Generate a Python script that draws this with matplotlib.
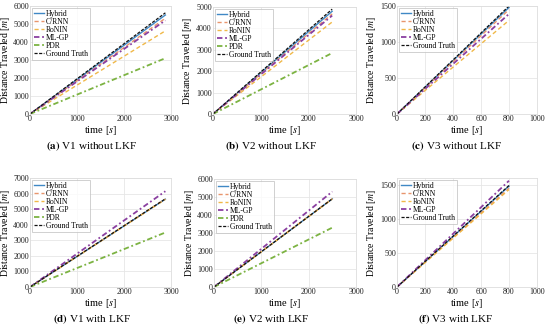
import matplotlib
matplotlib.use("Agg")
import matplotlib.pyplot as plt

plt.rcParams['font.family'] = ['Liberation Serif', 'DejaVu Serif']
plt.rcParams['mathtext.fontset'] = 'stix'

methods = ["Hybrid", "C/RNN", "RoNIN", "ML-GP", "PDR", "Ground Truth"]
colors = ["#3f88c5", "#e8956d", "#f0b848", "#8a3fa0", "#7cb342", "#111111"]
styles = ["-", (0, (3, 2)), (0, (3, 2)), (0, (3, 1.5, 1, 1.5)), (0, (3, 1.5, 1, 1.5)), (0, (2.5, 1.2))]
widths = [1.0, 1.0, 1.0, 1.3, 1.3, 0.9]

# end time of each run [s]
end_time = {"a": 2880, "b": 2500, "c": 800, "d": 2880, "e": 2500, "f": 800}

# distance traveled at end time [m]; None = not shown
end_dist = {
    "a": [5500, 5320, 4620, 5200, 3100, 5620],
    "b": [4800, 4680, 4300, 4600, 2850, 4900],
    "c": [1480, 1450, 1300, 1390, None, 1500],
    "d": [5640, 5650, 5630, 6150, 3500, 5660],
    "e": [4900, 4910, 4890, 5300, 3300, 4900],
    "f": [1480, 1450, 1430, 1560, None, 1490],
}

titles = {"a": "V1 without LKF", "b": "V2 without LKF", "c": "V3 without LKF",
          "d": "V1 with LKF", "e": "V2 with LKF", "f": "V3 with LKF"}
xlims = {"a": 3000, "b": 3000, "c": 1000, "d": 3000, "e": 3000, "f": 1000}
xticks = {"a": [0, 1000, 2000, 3000], "b": [0, 1000, 2000, 3000], "c": [0, 200, 400, 600, 800, 1000],
          "d": [0, 1000, 2000, 3000], "e": [0, 1000, 2000, 3000], "f": [0, 200, 400, 600, 800, 1000]}
ylims = {"a": 6000, "b": 5000, "c": 1500, "d": 7000, "e": 6000, "f": 1600}
yticks = {"a": range(0, 6001, 1000), "b": range(0, 5001, 1000), "c": [0, 500, 1000, 1500],
          "d": range(0, 7001, 1000), "e": range(0, 6001, 1000), "f": [0, 500, 1000, 1500]}

W, H = 550, 330
fig = plt.figure(figsize=(W / 100, H / 100), dpi=100)

# pixel boxes: left, right, top, bottom
boxes = {"a": (30, 171, 6, 114), "b": (213, 356, 7, 114), "c": (397, 537, 6, 114),
         "d": (30, 171, 178, 287), "e": (214, 356, 179, 287), "f": (397, 537, 178, 287)}
ylabel_x = {"a": 6, "b": 188, "c": 372, "d": 6, "e": 189, "f": 372}
title_pos = {"a": (92, 146), "b": (271, 146), "c": (456, 146),
             "d": (92, 319), "e": (271, 319), "f": (456, 319)}

for key in ["a", "b", "c", "d", "e", "f"]:
    l, r, t, b = boxes[key]
    ax = fig.add_axes([l / W, 1 - b / H, (r - l) / W, (b - t) / H])
    T = end_time[key]
    for m, c, s, lw, d in zip(methods, colors, styles, widths, end_dist[key]):
        if d is None:
            continue
        ax.plot([0, T], [0, d], color=c, linestyle=s, lw=lw, label=m)
    ax.set_xlim(0, xlims[key])
    ax.set_ylim(0, ylims[key])
    ax.set_xticks(xticks[key])
    ax.set_yticks(list(yticks[key]))
    ax.grid(True, color="#e6e6e6", lw=0.6)
    ax.set_axisbelow(True)
    for sp in ax.spines.values():
        sp.set_color("#dddddd")
        sp.set_linewidth(0.6)
    ax.tick_params(length=0, labelsize=5.8, pad=0.8, colors="#222222")
    ax.set_xlabel("time [$s$]", fontsize=7.5, labelpad=0.5)
    ax.set_ylabel("Distance Traveled [$m$]", fontsize=7, va="center")
    ax.yaxis.set_label_coords((ylabel_x[key] - l) / (r - l), 0.5)
    leg = ax.legend(loc="upper left", fontsize=5.5, handlelength=1.3, handletextpad=0.3,
                    labelspacing=0.0, borderpad=0.25, borderaxespad=0.25, frameon=True,
                    fancybox=False)
    leg.get_frame().set_edgecolor("#bbbbbb")
    leg.get_frame().set_linewidth(0.6)
    tx, ty = title_pos[key]
    fig.text(tx / W, 1 - ty / H, f"$\\mathbf{{({key})}}$ {titles[key]}", ha="center",
             va="center", fontsize=8)

fig.savefig("out.png", dpi=100)
